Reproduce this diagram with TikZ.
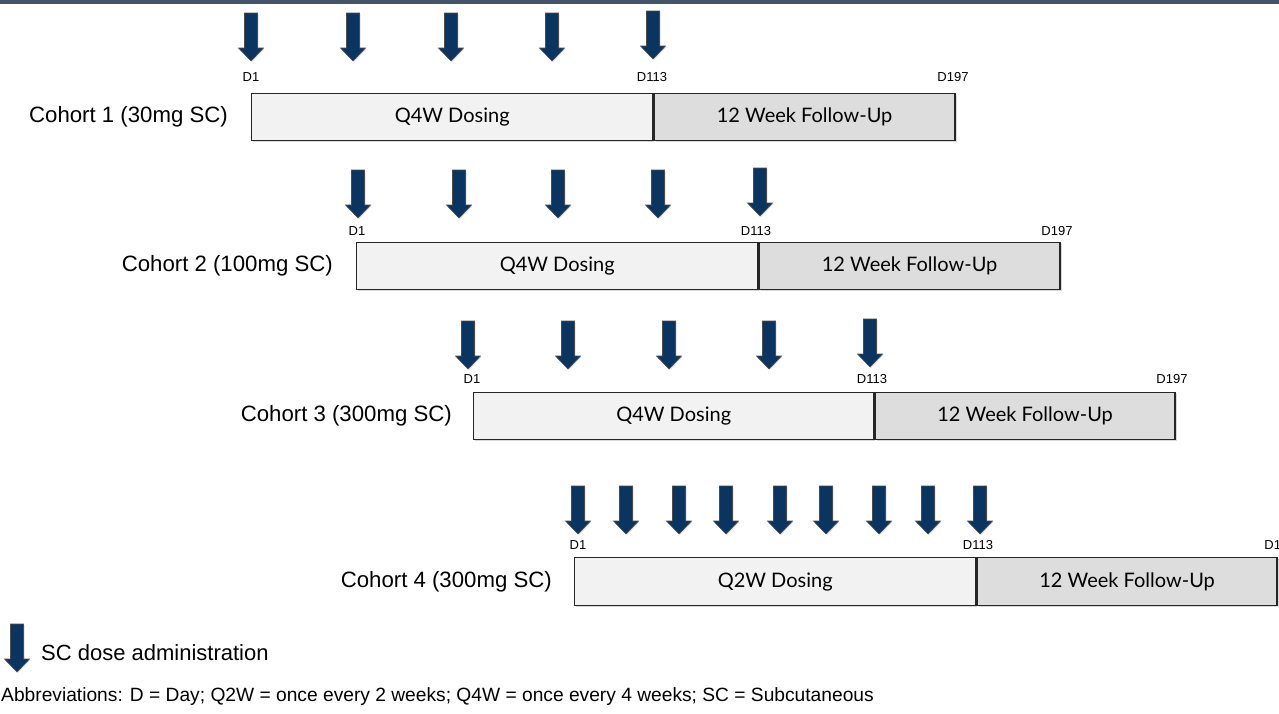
\documentclass[tikz,border=0pt]{standalone}
\usepackage{fontspec}
\setmainfont{Liberation Sans}
\newfontfamily\gillfont{Lato}
\usetikzlibrary{shadows}
\definecolor{band}{HTML}{44546A}
\definecolor{navy}{HTML}{0A3560}
\definecolor{dosefill}{HTML}{F2F2F2}
\definecolor{fufill}{HTML}{DDDDDD}
\tikzset{
  phasebox/.style={draw=black!85, line width=1.4pt, inner sep=0pt, minimum height=47pt,
    anchor=north west, font=\gillfont\fontsize{20}{24}\selectfont,
    drop shadow={shadow xshift=1.5pt, shadow yshift=-1.5pt, opacity=0.3}},
  dosebox/.style={phasebox, fill=dosefill},
  fubox/.style={phasebox, fill=fufill},
  cohortlabel/.style={anchor=east, font=\fontsize{22.2}{26}\selectfont, inner sep=0pt},
  daylabel/.style={font=\fontsize{13}{15}\selectfont, inner sep=0pt},
  plaintext/.style={anchor=west, font=\fontsize{22}{26}\selectfont, inner sep=0pt},
  pics/dosearrow/.style={code={
    \path[fill=navy, draw=black!70, line width=0.6pt, line join=miter,
      drop shadow={shadow xshift=1pt, shadow yshift=-1pt, opacity=0.25}]
      (-6.5,0) -- (6.5,0) -- (6.5,35) -- (12.5,35) -- (0,48) -- (-12.5,35) -- (-6.5,35) -- cycle;}}
}
\begin{document}
\begin{tikzpicture}[x=1pt,y=-1pt]
\useasboundingbox (0,0) rectangle (1279,713);
\fill[band] (0,0) rectangle (1279,4);

% ---------- Cohort 1 ----------
\node[dosebox, minimum width=401pt] (dose1) at (251,93) {Q4W Dosing};
\node[fubox, minimum width=301pt] (fu1) at (dose1.north east) {12 Week Follow-Up};
\node[cohortlabel] (lab1) at ([xshift=-23pt]dose1.west) {Cohort 1 (30mg SC)};
\node[daylabel] (c1d1) at (251,77) {D1};
\node[daylabel] (c1d113) at (652,77) {D113};
\node[daylabel] (c1d197) at (953,77) {D197};
\foreach \x in {251,353,451,552} \pic at (\x,13) {dosearrow};
\pic at (653,11) {dosearrow};

% ---------- Cohort 2 ----------
\node[dosebox, minimum width=401pt] (dose2) at (356,242) {Q4W Dosing};
\node[fubox, minimum width=301pt] (fu2) at (dose2.north east) {12 Week Follow-Up};
\node[cohortlabel] (lab2) at ([xshift=-23pt]dose2.west) {Cohort 2 (100mg SC)};
\node[daylabel] (c2d1) at (357,231) {D1};
\node[daylabel] (c2d113) at (756,231) {D113};
\node[daylabel] (c2d197) at (1057,231) {D197};
\foreach \x in {358,459,558,658} \pic at (\x,170) {dosearrow};
\pic at (760,168) {dosearrow};

% ---------- Cohort 3 ----------
\node[dosebox, minimum width=400pt] (dose3) at (473,392) {Q4W Dosing};
\node[fubox, minimum width=300pt] (fu3) at (dose3.north east) {12 Week Follow-Up};
\node[cohortlabel] (lab3) at ([xshift=-21pt]dose3.west) {Cohort 3 (300mg SC)};
\node[daylabel] (c3d1) at (472,379) {D1};
\node[daylabel] (c3d113) at (872,379) {D113};
\node[daylabel] (c3d197) at (1172,379) {D197};
\foreach \x in {468,568,669,769} \pic at (\x,321) {dosearrow};
\pic at (870,319) {dosearrow};

% ---------- Cohort 4 ----------
\node[dosebox, minimum width=401pt, minimum height=48pt] (dose4) at (574,557) {Q2W Dosing};
\node[fubox, minimum width=300pt, minimum height=48pt] (fu4) at (dose4.north east) {12 Week Follow-Up};
\node[cohortlabel] (lab4) at ([xshift=-22pt]dose4.west) {Cohort 4 (300mg SC)};
\node[daylabel] (c4d1) at (578,545) {D1};
\node[daylabel] (c4d113) at (978,545) {D113};
\node[daylabel] (c4d197) at (1280,545) {D197};
\foreach \x in {578,626,679,726,780,826,879,928,980} \pic at (\x,486) {dosearrow};

% ---------- Legend ----------
\pic at (17,624) {dosearrow};
\node[plaintext] (legend) at (41,653) {SC dose administration};
\node[plaintext, font=\fontsize{19.2}{23}\selectfont] (abbr) at (1,697) {Abbreviations: D = Day; Q2W = once every 2 weeks; Q4W = once every 4 weeks; SC = Subcutaneous};
\end{tikzpicture}
\end{document}
